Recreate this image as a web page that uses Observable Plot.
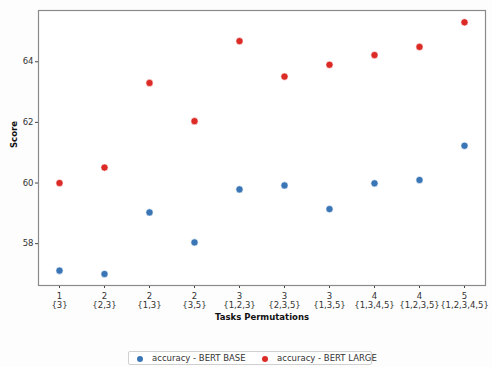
<!DOCTYPE html>
<html>
<head>
<meta charset="utf-8">
<script src="https://cdn.jsdelivr.net/npm/d3@7"></script>
<script src="https://cdn.jsdelivr.net/npm/@observablehq/plot@0.6"></script>
<style>
  html, body { margin: 0; padding: 0; background: #fdfdfd; }
  #wrap { width: 492px; height: 367px; position: relative; font-family: "DejaVu Sans", sans-serif; }
  #legend { position: absolute; left: 128px; top: 351px; width: 244px; height: 14px; border: 1px solid #d0d0d0; border-radius: 2px; background: #fff; font-size: 8.5px; color: #333; box-sizing: border-box; }
  .li { position: absolute; top: 1px; white-space: nowrap; line-height: 11px; }
  .dot { display: inline-block; width: 6px; height: 6px; border-radius: 50%; margin-right: 9px; vertical-align: -0.5px; }
</style>
</head>
<body>
<div id="wrap"><div id="chart"></div>
<div id="legend">
  <span class="li" style="left:8px"><span class="dot" style="background:#3a76b6"></span>accuracy - BERT BASE</span>
  <span class="li" style="left:133px"><span class="dot" style="background:#dc2a26"></span>accuracy - BERT LARGE</span>
</div></div>
<script>
const counts = ["1", "2", "2", "2", "3", "3", "3", "4", "4", "5"];
const sets = ["{3}", "{2,3}", "{1,3}", "{3,5}", "{1,2,3}", "{2,3,5}", "{1,3,5}", "{1,3,4,5}", "{1,2,3,5}", "{1,2,3,4,5}"];
const bertBase = [57.11, 57.0, 59.03, 58.04, 59.79, 59.92, 59.14, 59.99, 60.1, 61.23];
const bertLarge = [60.0, 60.51, 63.30, 62.04, 64.68, 63.51, 63.9, 64.22, 64.49, 65.30];
const yTicks = [58, 60, 62, 64];

const cats = counts.map((c, i) => c + "\n" + sets[i]);
const data = [];
cats.forEach((c, i) => {
  data.push({cat: c, value: bertBase[i], series: "accuracy - BERT BASE"});
});
cats.forEach((c, i) => {
  data.push({cat: c, value: bertLarge[i], series: "accuracy - BERT LARGE"});
});

const chart = Plot.plot({
  width: 492,
  height: 340,
  marginLeft: 38,
  marginRight: 7,
  marginTop: 10,
  marginBottom: 55,
  style: {fontFamily: "DejaVu Sans, sans-serif", fontSize: "8.5px", color: "#333", background: "transparent"},
  x: {type: "point", domain: cats, padding: 0.43, label: null},
  y: {domain: [56.62, 65.69], label: null},
  color: {domain: ["accuracy - BERT BASE", "accuracy - BERT LARGE"], range: ["#3a76b6", "#dc2a26"]},
  marks: [
    Plot.frame({fill: "#ffffff", stroke: "none"}),
    Plot.axisX({ticks: cats, tickSize: 3, tickPadding: 4, lineHeight: 1.1, stroke: "#444", fill: "#333", label: null}),
    Plot.axisY({ticks: yTicks, tickSize: 3, tickPadding: 2, stroke: "#444", fill: "#333", label: null}),
    Plot.frame({stroke: "#8a8a8a", strokeWidth: 1.2}),
    Plot.dot(data, {x: "cat", y: "value", fill: "series", r: 3.6, stroke: "#fff", strokeWidth: 0.6}),
    Plot.text(["Tasks Permutations"], {frameAnchor: "bottom", dy: 34, fontWeight: "bold", fontSize: 8.5, fill: "#111"}),
    Plot.text(["Score"], {frameAnchor: "left", dx: -24, rotate: -90, fontWeight: "bold", fontSize: 8.5, fill: "#111"})
  ]
});
document.getElementById("chart").appendChild(chart);
</script>
</body>
</html>
